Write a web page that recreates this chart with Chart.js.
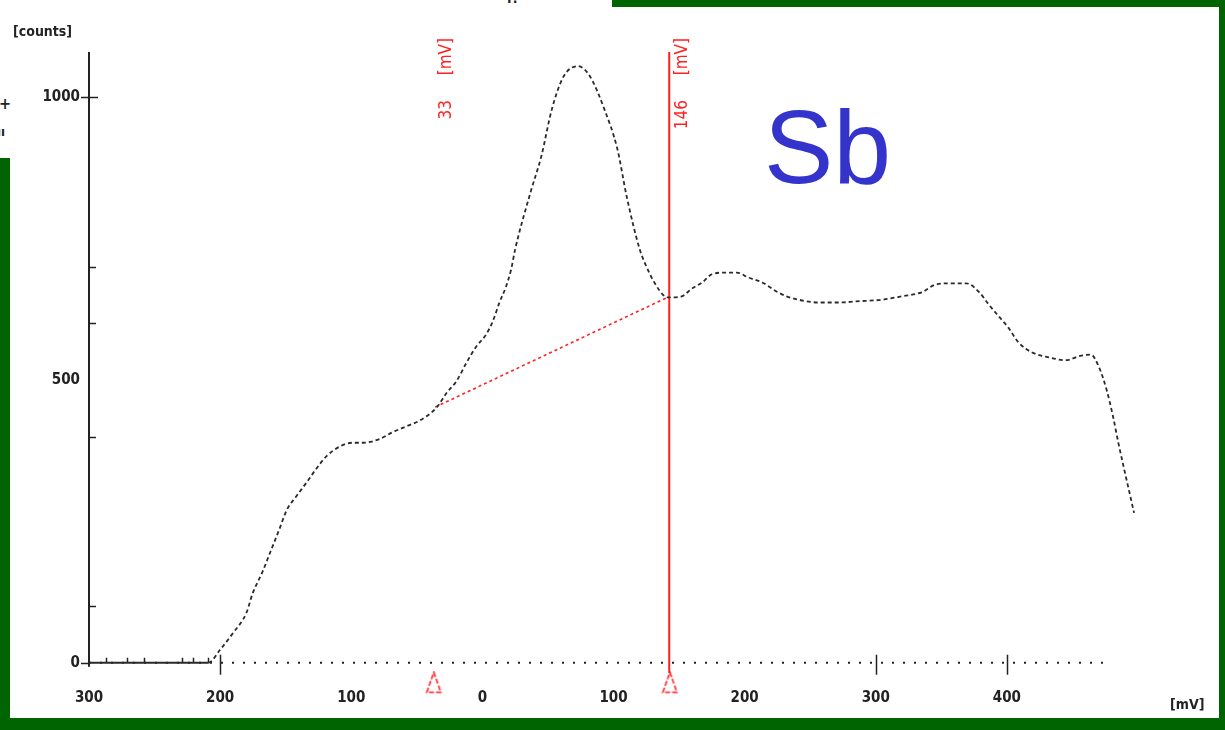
<!DOCTYPE html>
<html>
<head>
<meta charset="utf-8">
<script src="https://cdn.jsdelivr.net/npm/chart.js@4.4.1/dist/chart.umd.min.js"></script>
<style>
  html, body { margin: 0; padding: 0; }
  body { width: 1225px; height: 730px; position: relative; overflow: hidden; background: #006400; }
  #papel { position: absolute; left: 10px; top: 7px; width: 1209px; height: 711px; background: #fff; }
  #remendo { position: absolute; left: 0; top: 0; width: 612px; height: 158px; background: #fff; }
  #myChart { position: absolute; left: 0; top: 0; }
  #sb { position: absolute; left: 764px; top: 95px; font: 104px 'Liberation Sans', Arial, sans-serif; line-height: 1; color: #3434cc; }
  .resto { position: absolute; font: bold 16px 'DejaVu Sans Condensed', sans-serif; color: #222; }
</style>
</head>
<body>
<div id="papel"></div>
<div id="remendo"></div>
<div class="resto" style="left:-1px;top:94px;">+</div>
<div class="resto" style="left:-3px;top:124px;font-size:13px;">ıı</div>
<div class="resto" style="left:505px;top:-10px;font-size:14px;">ʕ!</div>
<canvas id="myChart" width="1225" height="730"></canvas>
<div id="sb">Sb</div>
<script>
const ctx = document.getElementById('myChart');

// curva medida (mV, counts)
const curvaMV = [-300, -209, -200, -190, -180, -175, -168, -161, -155, -149, -142, -134, -127, -119, -109, -99, -91, -78, -69, -58, -48, -35, -27, -20, -12, -5, 3, 8, 13, 18, 22, 25, 37, 45, 53, 62, 73, 82, 93, 103, 110, 120, 125, 131, 139, 142, 152, 160, 168, 175, 186, 194, 203, 213, 224, 232, 241, 257, 272, 285, 305, 320, 335, 346, 358, 369, 379, 386, 394, 401, 409, 419, 432, 445, 455, 464, 470, 476, 481, 485, 489, 493, 497];
const curvaCounts = [0, 0, 23, 53, 88, 124, 159, 200, 235, 271, 294, 319, 342, 365, 382, 389, 389, 396, 407, 418, 428, 451, 478, 497, 531, 558, 581, 604, 637, 665, 696, 731, 834, 896, 979, 1037, 1055, 1037, 979, 908, 825, 731, 701, 673, 648, 646, 648, 662, 673, 687, 690, 690, 681, 673, 657, 648, 642, 637, 637, 639, 642, 648, 655, 669, 671, 671, 655, 634, 612, 593, 566, 549, 540, 535, 542, 545, 524, 483, 435, 389, 347, 306, 265];

// marcadores e linha de base
const marcadorMV = [-37, 143];
const marcadorTexto = ['33', '146'];
const baseMV = [-36, 142];
const baseCounts = [452, 647];

// eixos
const xMin = -300, xMax = 500;
const yMin = -50, yMax = 1080;
const xRotulos = [-300, -200, -100, 0, 100, 200, 300, 400];
const xTicksGrandes = [-200, 300, 400];
const xTicksPequenos = [-287, -271, -258, -229, -221, -209];
const yRotulos = [0, 500, 1000];
const yTicksPequenos = [100, 400, 600, 700];

const pts = (xs, ys) => xs.map((x, i) => ({ x: x, y: ys[i] }));

const fonteEixo = "bold 15px 'DejaVu Sans Condensed', 'DejaVu Sans', sans-serif";
const corEixo = '#222';

// triangulo tracejado dos marcadores
const triangulo = document.createElement('canvas');
triangulo.width = 17;
triangulo.height = 23;
(function () {
  const t = triangulo.getContext('2d');
  t.strokeStyle = '#ff2020';
  t.lineWidth = 1.6;
  t.setLineDash([5, 2]);
  t.beginPath();
  t.moveTo(8.5, 1.5);
  t.lineTo(15.5, 21.5);
  t.lineTo(1.5, 21.5);
  t.closePath();
  t.stroke();
})();

const eixos = {
  id: 'eixos',
  beforeDatasetsDraw(chart) {
    const c = chart.ctx;
    const xs = chart.scales.x, ys = chart.scales.y;
    const x0 = xs.getPixelForValue(xMin);
    const y0 = ys.getPixelForValue(0);
    c.save();
    c.strokeStyle = corEixo;
    c.lineWidth = 2;
    // eixo y
    c.beginPath();
    c.moveTo(x0, ys.getPixelForValue(yMax));
    c.lineTo(x0, y0 + 4);
    c.stroke();
    // eixo x pontilhado
    c.setLineDash([2, 9]);
    c.beginPath();
    c.moveTo(x0, y0);
    c.lineTo(xs.getPixelForValue(478), y0);
    c.stroke();
    c.setLineDash([]);
    c.lineWidth = 1.5;
    xTicksGrandes.forEach(v => {
      const px = Math.round(xs.getPixelForValue(v)) + 0.5;
      c.beginPath(); c.moveTo(px, y0 - 8); c.lineTo(px, y0 + 12); c.stroke();
    });
    xTicksPequenos.forEach(v => {
      const px = Math.round(xs.getPixelForValue(v)) + 0.5;
      c.beginPath(); c.moveTo(px, y0 - 5); c.lineTo(px, y0); c.stroke();
    });
    yTicksPequenos.forEach(v => {
      const py = Math.round(ys.getPixelForValue(v)) + 0.5;
      c.beginPath(); c.moveTo(x0, py); c.lineTo(x0 + 7, py); c.stroke();
    });
    // ticks 1000 e 0
    let py = Math.round(ys.getPixelForValue(1000)) + 0.5;
    c.beginPath(); c.moveTo(x0 - 8, py); c.lineTo(x0 + 9, py); c.stroke();
    py = Math.round(y0) + 0.5;
    c.beginPath(); c.moveTo(x0 - 8, py); c.lineTo(x0, py); c.stroke();
    c.restore();
  },
  afterDraw(chart) {
    const c = chart.ctx;
    const xs = chart.scales.x, ys = chart.scales.y;
    const x0 = xs.getPixelForValue(xMin);
    const y0 = ys.getPixelForValue(0);
    c.save();
    c.fillStyle = corEixo;
    c.font = fonteEixo;
    c.textBaseline = 'middle';
    c.textAlign = 'right';
    yRotulos.forEach(v => c.fillText(String(v), x0 - 9, ys.getPixelForValue(v)));
    c.textAlign = 'center';
    xRotulos.forEach(v => c.fillText(String(Math.abs(v)), xs.getPixelForValue(v), y0 + 35));
    c.textAlign = 'left';
    c.font = "bold 14px 'DejaVu Sans Condensed', 'DejaVu Sans', sans-serif";
    c.fillText('[counts]', 13, 32);
    c.fillText('[mV]', 1170, 705);
    // rotulos verticais dos marcadores
    c.fillStyle = '#ff2020';
    c.font = "17px 'DejaVu Sans Condensed', 'DejaVu Sans', sans-serif";
    marcadorMV.forEach((v, i) => {
      const px = xs.getPixelForValue(v) + 13;
      c.save();
      c.translate(px, 38);
      c.rotate(-Math.PI / 2);
      c.textAlign = 'right';
      c.fillText('[mV]', 0, 0);
      c.fillText(marcadorTexto[i], -62, 0);
      c.restore();
    });
    c.restore();
  }
};

new Chart(ctx, {
  type: 'line',
  data: {
    datasets: [
      {
        label: 'Sb',
        data: pts(curvaMV, curvaCounts),
        borderColor: '#2a2a2a',
        borderWidth: 1.8,
        borderDash: [4, 3],
        segment: {
          borderDash: s => (s.p0.parsed.y === 0 && s.p1.parsed.y === 0) ? [] : [4, 3]
        },
        cubicInterpolationMode: 'monotone',
        pointRadius: 0,
        fill: false
      },
      {
        label: 'base',
        data: pts(baseMV, baseCounts),
        borderColor: '#ff2020',
        borderWidth: 1.6,
        borderDash: [3, 3],
        pointRadius: 0
      },
      {
        label: 'cursor',
        data: [{ x: marcadorMV[1] - 0.5, y: -18 }, { x: marcadorMV[1] - 0.5, y: yMax }],
        borderColor: '#ff2020',
        borderWidth: 2,
        pointRadius: 0
      },
      {
        label: 'marcadores',
        data: marcadorMV.map(v => ({ x: v, y: -34.5 })),
        showLine: false,
        pointStyle: triangulo,
        pointRadius: 10,
        clip: false
      }
    ]
  },
  options: {
    responsive: false,
    animation: false,
    devicePixelRatio: 1,
    layout: {
      // y=0 fica em 663 px: 611 px para 1080 counts
      padding: { left: 89, top: 52, right: 87, bottom: 39 }
    },
    scales: {
      x: { type: 'linear', min: xMin, max: xMax, display: false },
      y: { type: 'linear', min: yMin, max: yMax, display: false }
    },
    plugins: {
      legend: { display: false },
      tooltip: { enabled: false }
    }
  },
  plugins: [eixos]
});
</script>
</body>
</html>
